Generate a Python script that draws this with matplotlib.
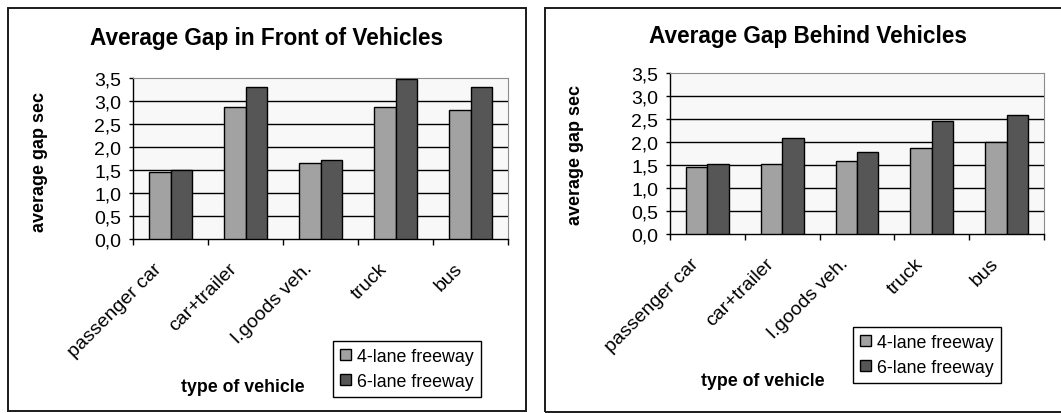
import matplotlib.pyplot as plt
import matplotlib.patches as mpatches
from matplotlib.transforms import ScaledTranslation
from matplotlib.ticker import FuncFormatter
import numpy as np

plt.rcParams['font.family'] = ['Liberation Sans', 'DejaVu Sans']

# ── data ─────────────────────────────────────────
categories = ['passenger car', 'car+trailer', 'l.goods veh.', 'truck', 'bus']
series_names = ['4-lane freeway', '6-lane freeway']

front_4lane = [1.46, 2.87, 1.65, 2.87, 2.80]
front_6lane = [1.51, 3.30, 1.72, 3.48, 3.30]

behind_4lane = [1.45, 1.53, 1.59, 1.86, 2.01]
behind_6lane = [1.53, 2.08, 1.79, 2.45, 2.58]

y_ticks = [0.0, 0.5, 1.0, 1.5, 2.0, 2.5, 3.0, 3.5]

# ── layout (pixels) ─────────────────────────────
W, H = 1061, 414
C4 = '#a2a2a2'
C6 = '#565656'


def frac(x0, y0, x1, y1):
    return [x0 / W, 1 - y1 / H, (x1 - x0) / W, (y1 - y0) / H]


fig = plt.figure(figsize=(W / 100, H / 100), dpi=100)
fig.patch.set_facecolor('white')


def panel(box, plot, title, title_xy, ylab_xy, xlab_xy, leg_xy, s4, s6):
    # outer border
    x0, y0, x1, y1 = box
    fig.patches.append(mpatches.Rectangle((x0 / W, 1 - y1 / H), (x1 - x0) / W, (y1 - y0) / H,
                                          transform=fig.transFigure, fill=False,
                                          edgecolor='#1a1a1a', lw=1.4))
    ax = fig.add_axes(frac(*plot))
    ax.set_facecolor('#f8f8f8')

    n = len(categories)
    centers = np.arange(n) + 0.5
    w = 0.285
    b4 = ax.bar(centers - w, s4, width=w, align='edge', color=C4,
                edgecolor='black', lw=1.0, zorder=3, label=series_names[0])
    b6 = ax.bar(centers, s6, width=w, align='edge', color=C6,
                edgecolor='black', lw=1.0, zorder=3, label=series_names[1])

    ax.set_xlim(0, n)
    ax.set_ylim(0, 3.5)
    ax.set_yticks(y_ticks)
    ax.yaxis.set_major_formatter(FuncFormatter(lambda v, p: f'{v:.1f}'.replace('.', ',')))
    for v in y_ticks[1:-1]:
        ax.axhline(v, color='black', lw=1.0, zorder=1)

    ax.set_xticks(np.arange(n + 1))
    ax.set_xticklabels([])
    ax.set_xticks(centers, minor=True)
    ax.set_xticklabels(categories, minor=True, rotation=45, ha='right',
                       va='center', rotation_mode='anchor', fontsize=14)
    ax.tick_params(axis='x', which='major', direction='out', length=4, width=1)
    ax.tick_params(axis='x', which='minor', length=0, pad=19)
    ax.tick_params(axis='y', direction='out', length=3, width=1, pad=5.5, labelsize=14)
    for lbl in ax.get_xticklabels(minor=True):
        lbl.set_transform(lbl.get_transform() + ScaledTranslation(-8 / 72, 0, fig.dpi_scale_trans))

    for s in ['top', 'right']:
        ax.spines[s].set_edgecolor('#8c8c8c')
    for s in ['left', 'bottom']:
        ax.spines[s].set_edgecolor('black')
        ax.spines[s].set_linewidth(1.0)

    fig.text(title_xy[0] / W, 1 - title_xy[1] / H, title, ha='center', va='center',
             fontsize=16.3, fontweight='bold')
    fig.text(ylab_xy[0] / W, 1 - ylab_xy[1] / H, 'average gap sec', ha='center', va='center',
             rotation=90, fontsize=13, fontweight='bold')
    fig.text(xlab_xy[0] / W, 1 - xlab_xy[1] / H, 'type of vehicle', ha='center', va='center',
             fontsize=12.8, fontweight='bold')

    lx0, ly0, lx1, ly1 = leg_xy
    leg = fig.legend(handles=[b4, b6], loc='upper left',
                     bbox_to_anchor=(lx0 / W, 1 - ly0 / H), borderaxespad=0,
                     fontsize=12.8, frameon=True, fancybox=False, shadow=False,
                     edgecolor='black', framealpha=1, handlelength=0.6, handleheight=0.6,
                     handletextpad=0.35, borderpad=0.4, labelspacing=0.45)
    leg.get_frame().set_linewidth(1.0)
    return ax


panel((8, 9, 526, 412), (133, 79, 508, 240), 'Average Gap in Front of Vehicles',
      (267, 38), (40, 162), (243, 388), (333, 342, 476, 396), front_4lane, front_6lane)
panel((545, 9, 1075, 413), (670, 74, 1044, 235), 'Average Gap Behind Vehicles',
      (808, 37), (576, 155), (763, 382), (853, 328, 1002, 384), behind_4lane, behind_6lane)

plt.savefig('out.png', dpi=100, facecolor=fig.get_facecolor())
